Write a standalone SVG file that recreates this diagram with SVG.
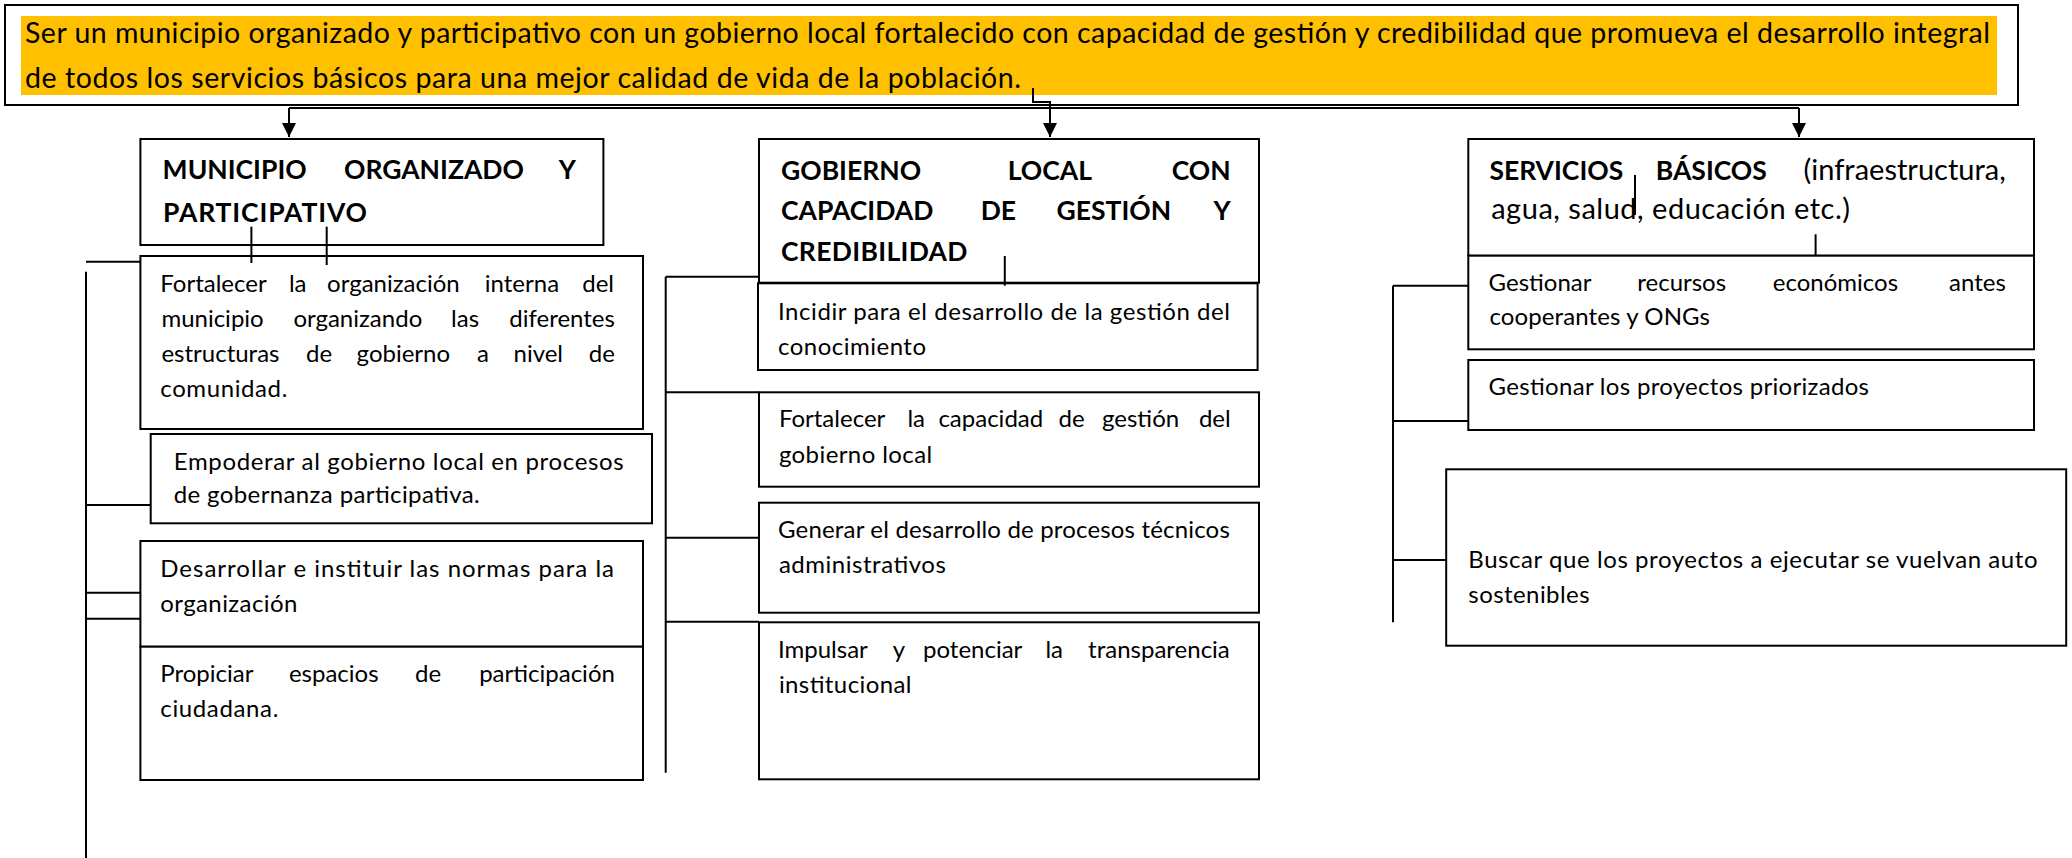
<svg xmlns="http://www.w3.org/2000/svg" width="2072" height="858" viewBox="0 0 2072 858">
<style>
.bg{fill:#fff}
.box{fill:#fff;stroke:#000;stroke-width:2}
.conn{fill:none;stroke:#000;stroke-width:2}
.t{font-family:Lato,"Liberation Sans",sans-serif;font-size:24px;fill:#000}
.title{font-size:28.5px}
.h{font-size:26.5px;font-weight:bold}
.hr{font-size:29px}
.b{font-weight:bold}
</style>
<defs>
<marker id="arr" markerWidth="14" markerHeight="14" refX="14" refY="7" orient="auto" markerUnits="userSpaceOnUse">
<path d="M0,0 L14,7 L0,14 z" fill="#000"/>
</marker>
</defs>
<rect class="bg" x="0" y="0" width="2072" height="858"/>

<g id="vision">
<rect class="box" x="5" y="5" width="2013" height="100" stroke-width="2.5"/>
<rect x="21" y="16" width="1976" height="79" fill="#FFC000"/>
<text class="t title" x="25" y="43" textLength="1965" lengthAdjust="spacing">Ser un municipio organizado y participativo con un gobierno local fortalecido con capacidad de gestión y credibilidad que promueva el desarrollo integral</text>
<text class="t title" x="25" y="88" textLength="996" lengthAdjust="spacing">de todos los servicios básicos para una mejor calidad de vida de la población.</text>
</g>

<g id="municipio">
<rect class="box" x="140.4" y="139" width="463" height="106"/>
<text class="t h" y="179"><tspan x="162.6">MUNICIPIO</tspan><tspan x="344">ORGANIZADO</tspan><tspan x="576" text-anchor="end">Y</tspan></text>
<text class="t h" x="163" y="222" textLength="204" lengthAdjust="spacing">PARTICIPATIVO</text>
</g>

<g id="fortalecer-organizacion">
<rect class="box" x="140.4" y="256" width="502.6" height="173"/>
<text class="t" y="291.7"><tspan x="160.3">Fortalecer</tspan><tspan x="288.9">la</tspan><tspan x="327.1">organización</tspan><tspan x="484.8">interna</tspan><tspan x="614" text-anchor="end">del</tspan></text>
<text class="t" y="326.7"><tspan x="161.4">municipio</tspan><tspan x="293.4">organizando</tspan><tspan x="451.1">las</tspan><tspan x="614.9" text-anchor="end">diferentes</tspan></text>
<text class="t" y="362.3"><tspan x="161.4">estructuras</tspan><tspan x="306">de</tspan><tspan x="356.6">gobierno</tspan><tspan x="477.1">a</tspan><tspan x="513.5">nivel</tspan><tspan x="614.9" text-anchor="end">de</tspan></text>
<text class="t" x="160.3" y="397.3" textLength="127" lengthAdjust="spacing">comunidad.</text>
</g>

<g id="empoderar">
<rect class="box" x="150.7" y="434" width="501.3" height="89.3"/>
<text class="t" x="173.7" y="470" textLength="450" lengthAdjust="spacing">Empoderar al gobierno local en procesos</text>
<text class="t" x="173.7" y="503.3" textLength="306" lengthAdjust="spacing">de gobernanza participativa.</text>
</g>

<g id="desarrollar">
<rect class="box" x="140.4" y="541" width="502.6" height="105.7"/>
<text class="t" x="160.3" y="576.7" textLength="453.7" lengthAdjust="spacing">Desarrollar e instituir las normas para la</text>
<text class="t" x="160.3" y="611.7" textLength="137" lengthAdjust="spacing">organización</text>
</g>

<g id="propiciar">
<rect class="box" x="140.4" y="646.7" width="502.6" height="133.3"/>
<text class="t" y="681.7"><tspan x="160.3">Propiciar</tspan><tspan x="288.9">espacios</tspan><tspan x="415.1">de</tspan><tspan x="614.9" text-anchor="end">participación</tspan></text>
<text class="t" x="160.3" y="716.7" textLength="118" lengthAdjust="spacing">ciudadana.</text>
</g>

<g id="gobierno">
<rect class="box" x="759" y="139" width="500" height="143.7"/>
<text class="t h" y="180"><tspan x="781">GOBIERNO</tspan><tspan x="1007.7">LOCAL</tspan><tspan x="1230.7" text-anchor="end">CON</tspan></text>
<text class="t h" y="220"><tspan x="781">CAPACIDAD</tspan><tspan x="980.7">DE</tspan><tspan x="1056.6">GESTIÓN</tspan><tspan x="1230.7" text-anchor="end">Y</tspan></text>
<text class="t h" x="781" y="260.7" textLength="186.5" lengthAdjust="spacing">CREDIBILIDAD</text>
</g>

<g id="incidir">
<rect class="box" x="758" y="283.3" width="499.6" height="86.7"/>
<text class="t" x="778" y="320" textLength="452" lengthAdjust="spacing">Incidir para el desarrollo de la gestión del</text>
<text class="t" x="778" y="355" textLength="148" lengthAdjust="spacing">conocimiento</text>
</g>

<g id="fortalecer-capacidad">
<rect class="box" x="759" y="392.3" width="500" height="94.4"/>
<text class="t" y="426.7"><tspan x="778.9">Fortalecer</tspan><tspan x="907.4">la</tspan><tspan x="938.4">capacidad</tspan><tspan x="1058.6">de</tspan><tspan x="1102">gestión</tspan><tspan x="1230.7" text-anchor="end">del</tspan></text>
<text class="t" x="778.9" y="463.3" textLength="153.3" lengthAdjust="spacing">gobierno local</text>
</g>

<g id="generar">
<rect class="box" x="759" y="502.7" width="500" height="110"/>
<text class="t" x="778" y="538.3" textLength="451.8" lengthAdjust="spacing">Generar el desarrollo de procesos técnicos</text>
<text class="t" x="778.9" y="573.3" textLength="167" lengthAdjust="spacing">administrativos</text>
</g>

<g id="impulsar">
<rect class="box" x="759" y="622.3" width="500" height="157"/>
<text class="t" y="658.3"><tspan x="778">Impulsar</tspan><tspan x="892.8">y</tspan><tspan x="923">potenciar</tspan><tspan x="1045.4">la</tspan><tspan x="1229.8" text-anchor="end">transparencia</tspan></text>
<text class="t" x="778.9" y="692.7" textLength="132.6" lengthAdjust="spacing">institucional</text>
</g>

<g id="servicios">
<rect class="box" x="1468.3" y="139" width="565.7" height="116.7"/>
<text class="t h" y="180"><tspan x="1489.4">SERVICIOS</tspan><tspan x="1655.8">BÁSICOS</tspan><tspan class="hr" font-weight="normal" x="2005.8" text-anchor="end">(infraestructura,</tspan></text>
<text class="t hr" x="1491.2" y="219.3" textLength="358.8" lengthAdjust="spacing">agua, salud, educación etc.)</text>
</g>

<g id="gestionar-recursos">
<rect class="box" x="1468.3" y="255.7" width="565.7" height="93.6"/>
<text class="t" y="290.7"><tspan x="1488.6">Gestionar</tspan><tspan x="1637.3">recursos</tspan><tspan x="1772.8">económicos</tspan><tspan x="2005.8" text-anchor="end">antes</tspan></text>
<text class="t" x="1489.4" y="325" textLength="220.6" lengthAdjust="spacing">cooperantes y ONGs</text>
</g>

<g id="gestionar-proyectos">
<rect class="box" x="1468.3" y="360" width="565.7" height="70"/>
<text class="t" x="1488.6" y="395" textLength="380.4" lengthAdjust="spacing">Gestionar los proyectos priorizados</text>
</g>

<g id="buscar">
<rect class="box" x="1446.2" y="469.3" width="620" height="176.4"/>
<text class="t" x="1468.3" y="568.3" textLength="569.2" lengthAdjust="spacing">Buscar que los proyectos a ejecutar se vuelvan auto</text>
<text class="t" x="1468.3" y="602.7" textLength="121.3" lengthAdjust="spacing">sostenibles</text>
</g>

<g id="connectors">
<path class="conn" d="M1033 88 V102 H1050 V137" marker-end="url(#arr)"/>
<path class="conn" d="M289 108 H1799"/>
<path class="conn" d="M289 108 V137" marker-end="url(#arr)"/>
<path class="conn" d="M1799 108 V137" marker-end="url(#arr)"/>
<path class="conn" d="M86 261.7 H140.4"/>
<path class="conn" d="M86 271.7 V858"/>
<path class="conn" d="M86 505 H150.7"/>
<path class="conn" d="M86 592.7 H140.4"/>
<path class="conn" d="M86 618.7 H140.4"/>
<path class="conn" d="M251.4 226.7 V263"/>
<path class="conn" d="M326.7 226.7 V265"/>
<path class="conn" d="M665.7 276.7 V772.7"/>
<path class="conn" d="M665.7 276.7 H759"/>
<path class="conn" d="M665.7 392.3 H759"/>
<path class="conn" d="M665.7 537.7 H759"/>
<path class="conn" d="M665.7 621.7 H759"/>
<path class="conn" d="M1004.8 256 V285.7"/>
<path class="conn" d="M1393 285.7 V622.3"/>
<path class="conn" d="M1393 285.7 H1468.3"/>
<path class="conn" d="M1393 421 H1468.3"/>
<path class="conn" d="M1393 560 H1446.2"/>
<path class="conn" d="M1635 175 V215"/>
<path class="conn" d="M1815.6 234.3 V255.7"/>
</g>
</svg>
